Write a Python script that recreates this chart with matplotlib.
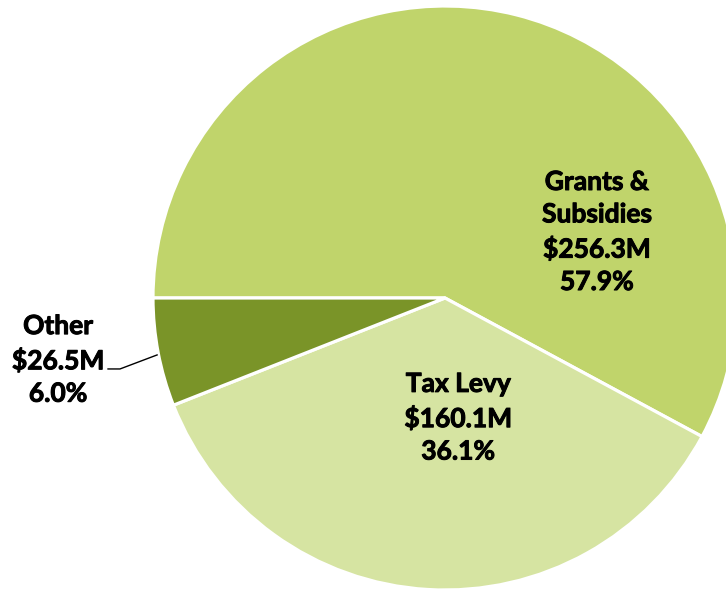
import matplotlib.pyplot as plt
import matplotlib.patheffects as pe

# data
labels = ['Grants &\nSubsidies', 'Tax Levy', 'Other']
values = [256.3, 160.1, 26.5]
colors = ['#C0D46B', '#D6E4A2', '#7A9428']

total = sum(values)

fig = plt.figure(figsize=(7.26, 5.90), dpi=100)
ax = fig.add_axes([153 / 726, 0 / 590, 584 / 726, 584 / 590])

wedges, _ = ax.pie(values, colors=colors, startangle=180, counterclock=False,
                   radius=1, center=(0, 0), frame=False,
                   wedgeprops=dict(edgecolor='white', linewidth=2.3))
for w in wedges:
    w.set_clip_on(False)

# pie() sets its own limits, so reset them afterwards
ax.set_xlim(-1, 1)
ax.set_ylim(-1, 1)
ax.set_aspect('equal')
ax.axis('off')

# label text
texts = []
for lab, v in zip(labels, values):
    texts.append(f'{lab}\n${v:.1f}M\n{v / total * 100:.1f}%')

font = dict(family=['Lato', 'DejaVu Sans'], fontweight='bold', fontsize=19,
            ha='center', va='center', linespacing=1.42, color='black',
            path_effects=[pe.withStroke(linewidth=0.7, foreground='black')])
ax.text(0.52, 0.226, texts[0], **font)
ax.text(0.045, -0.41, texts[1], **font)
ax.text(-1.325, -0.212, texts[2], clip_on=False, **font)

# leader line for Other
ax.plot([-1.154, -1.113, -0.986], [-0.243, -0.243, -0.195],
        color='black', linewidth=1, clip_on=False)

fig.savefig('out.png', dpi=100)
